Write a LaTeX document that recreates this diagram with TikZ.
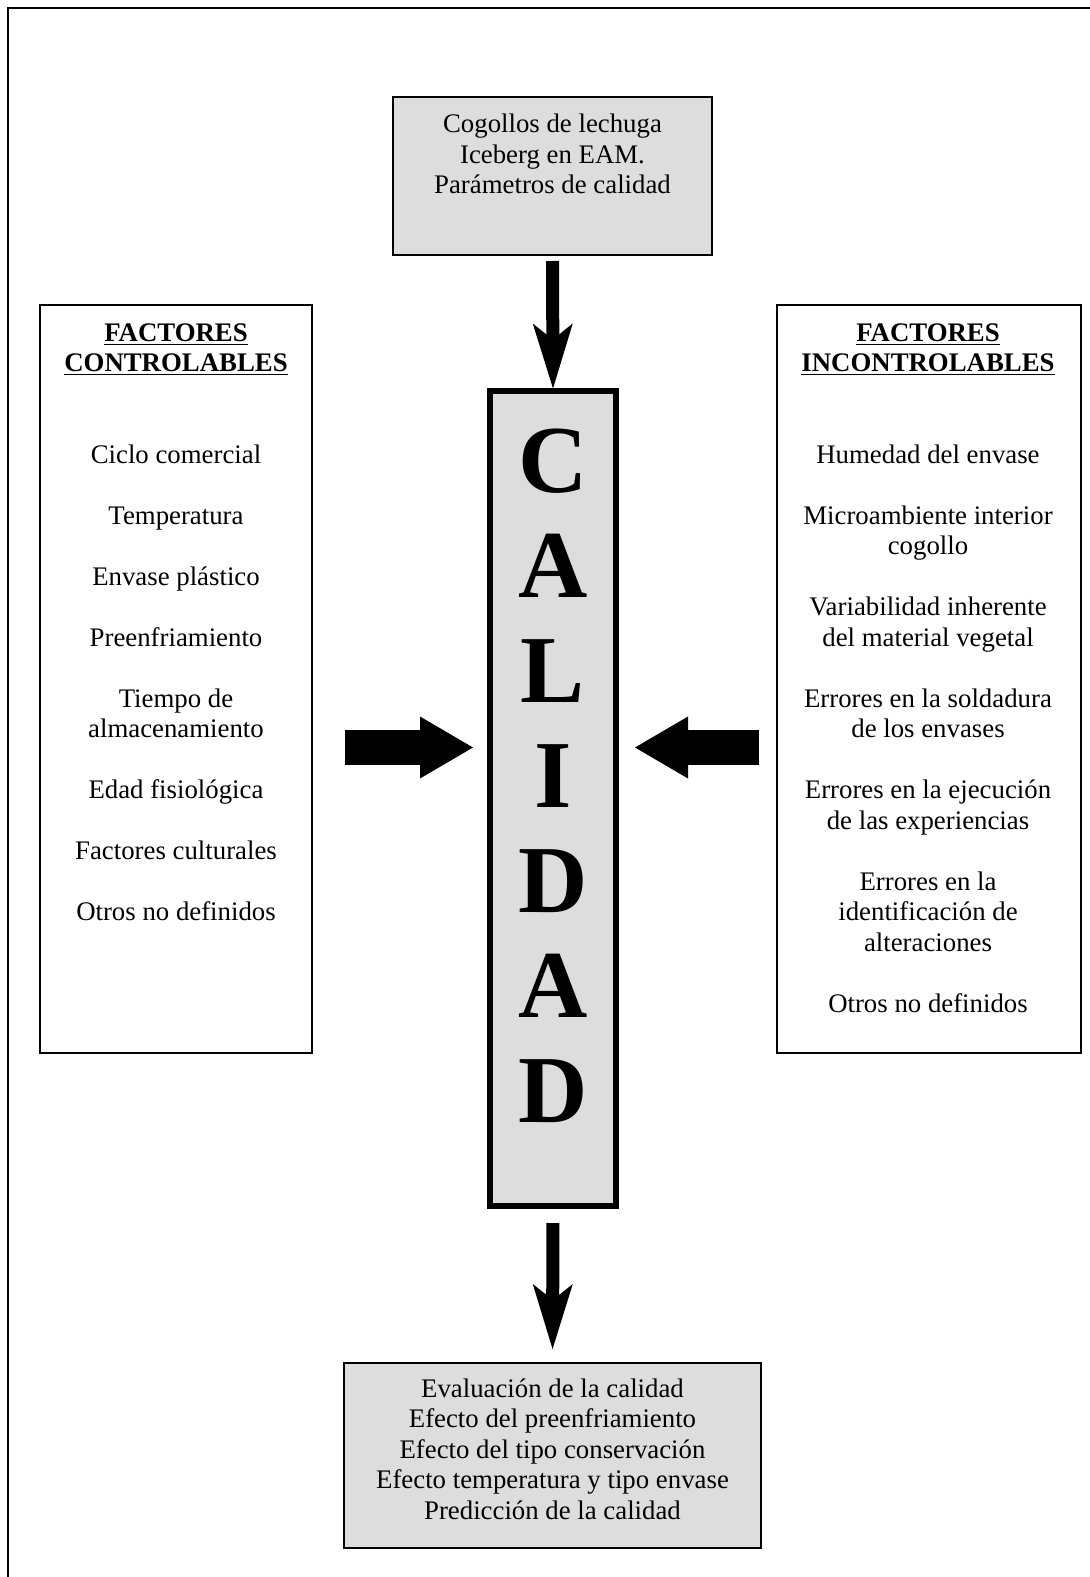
\documentclass[tikz,border=0pt]{standalone}
\usepackage{fontspec}
\setmainfont{Liberation Serif}
\usetikzlibrary{arrows.meta}
\definecolor{boxgray}{RGB}{221,221,221}
\tikzset{
    box/.style={draw=black, line width=1pt},
    graybox/.style={box, fill=boxgray},
    calbox/.style={draw=black, line width=3pt, fill=boxgray},
    txt/.style={align=center, inner sep=0pt, anchor=north, font=\fontsize{13.4}{15.25}\selectfont},
    bigletters/.style={align=center, inner sep=0pt, anchor=north, font=\fontsize{48}{52.5}\selectfont\bfseries}}
\tikzset{
    downarrow/.style={line width=6.5pt, -{Stealth[length=32.5pt, width=20pt, inset=8pt, line width=0pt]}},
    sidearrow/.style={line width=17.5pt, -{Triangle[length=26.5pt, width=31pt, line width=0pt]}}}
\newcommand{\factorhead}[1]{\underline{\textbf{#1}}}

\begin{document}
\begin{tikzpicture}[x=0.5pt, y=-0.5pt]
        \useasboundingbox (0,0) rectangle (1090,1577);
        \draw[line width=1pt] (1090,8) -- (8,8) -- (8,1577);

        \node[graybox, minimum width=159.5pt, minimum height=79pt] (top) at (552.5,176) {};
        \node[calbox, minimum width=63pt, minimum height=407.25pt] (cal) at (553,798.75) {};
        \node[box, minimum width=136pt, minimum height=374pt] (lbox) at (176,679) {};
        \node[box, minimum width=152pt, minimum height=374pt] (rbox) at (929,679) {};
        \node[graybox, minimum width=208.5pt, minimum height=92.5pt] (bottom) at (552.5,1455.5) {};
        \coordinate (arrowrow) at (0,747.5);

        \node[txt] (toptext) at (552.5,114) {Cogollos de lechuga\\Iceberg en EAM.\\Parámetros de calidad};
        \node[bigletters] (calword) at (553,429) {C\\A\\L\\I\\D\\A\\D};
        \node[txt] (ltext) at (176,323) {\factorhead{FACTORES}\\\factorhead{CONTROLABLES}\\[30.5pt]
            Ciclo comercial\\[15.25pt]
            Temperatura\\[15.25pt]
            Envase plástico\\[15.25pt]
            Preenfriamiento\\[15.25pt]
            Tiempo de\\almacenamiento\\[15.25pt]
            Edad fisiológica\\[15.25pt]
            Factores culturales\\[15.25pt]
            Otros no definidos};
        \node[txt] (rtext) at (928,323) {\factorhead{FACTORES}\\\factorhead{INCONTROLABLES}\\[30.5pt]
            Humedad del envase\\[15.25pt]
            Microambiente interior\\cogollo\\[15.25pt]
            Variabilidad inherente\\del material vegetal\\[15.25pt]
            Errores en la soldadura\\de los envases\\[15.25pt]
            Errores en la ejecución\\de las experiencias\\[15.25pt]
            Errores en la\\identificación de\\alteraciones\\[15.25pt]
            Otros no definidos};
        \node[txt] (bottomtext) at (552.5,1378) {Evaluación de la calidad\\Efecto del preenfriamiento\\Efecto del tipo conservación\\Efecto temperatura y tipo envase\\Predicción de la calidad};

        \draw[downarrow, shorten <=2.5pt, shorten >=0pt] (top.south) -- (cal.north);
        \draw[downarrow, shorten <=7pt, shorten >=6.5pt] (cal.south) -- (bottom.north);
        \draw[sidearrow, shorten <=16pt, shorten >=7pt] (lbox.east |- arrowrow) -- (cal.west |- arrowrow);
        \draw[sidearrow, shorten <=8.5pt, shorten >=8pt] (rbox.west |- arrowrow) -- (cal.east |- arrowrow);

\end{tikzpicture}
\end{document}
